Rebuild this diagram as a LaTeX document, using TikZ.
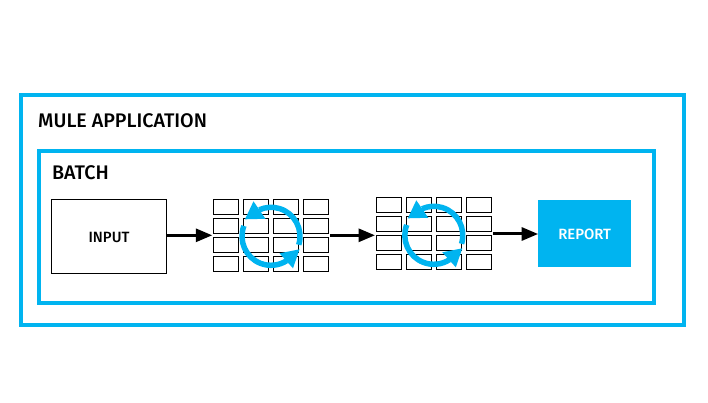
\documentclass[tikz,border=0pt]{standalone}
\usepackage{fontspec}
\setmainfont{Fira Sans}
\newfontfamily\muleface{Fira Sans Medium}
\usetikzlibrary{arrows.meta}
\definecolor{muleblue}{HTML}{00B4F0}
\tikzset{
  frame/.style={draw=muleblue, line width=4*0.03cm, inner sep=0pt},
  title/.style={inner sep=0pt, anchor=west, font=\muleface\fontsize{16.8}{16.8}\selectfont},
  boxtext/.style={inner sep=0pt, text height=10.4pt, text depth=0pt, font=\muleface\fontsize{12.7}{12.7}\selectfont},
  cell/.style={draw, fill=white, line width=1*0.03cm, inner sep=0pt, minimum width=25.2*0.03cm, minimum height=15*0.03cm},
  flow/.style={line width=3*0.03cm, -{Triangle[length=16.5*0.03cm, width=13*0.03cm]}},
  loop/.style={draw=muleblue, line width=5.5*0.03cm},
  loophead/.style={fill=muleblue}
}
\begin{document}
\begin{tikzpicture}[x=0.03cm, y=-0.03cm]
\useasboundingbox (0,0) rectangle (708,403);
\node[frame, minimum width=663.2*0.03cm, minimum height=229.5*0.03cm] (mule) at (352.1,210.25) {};
\node[frame, minimum width=615.3*0.03cm, minimum height=152*0.03cm] (batch) at (346.35,227) {};
\node[title] (mulelabel) at (38,120.7) {MULE APPLICATION};
\node[title] (batchlabel) at (52,173) {BATCH};
\node[boxtext, draw, line width=1*0.03cm, minimum width=115.4*0.03cm, minimum height=74*0.03cm] (input) at (109,236.3) {INPUT};
\node[boxtext, fill=muleblue, text=white, minimum width=92.7*0.03cm, minimum height=67*0.03cm] (report) at (584.7,233.5) {REPORT};
% first grid
\foreach \c [count=\i] in {226,256,286,316}
  \foreach \r [count=\j] in {206.8,225.8,244.8,263.8}
    \node[cell] (G1C\i R\j) at (\c,\r) {};
% second grid
\foreach \c [count=\i] in {389,419,449,479}
  \foreach \r [count=\j] in {204.8,223.8,242.8,261.8}
    \node[cell] (G2C\i R\j) at (\c,\r) {};
\coordinate (G1in) at (212.3,235.3);
\coordinate (G1out) at (330,235.3);
\coordinate (G2in) at (375,235.3);
\coordinate (G2out) at (493,234);
\draw[flow] (input.east |- G1in) -- (G1in);
\draw[flow] (G1out) -- (G2in);
\draw[flow] (G2out) -- (report.west |- G2out);
% loops
\foreach \cx/\cy in {271/236.3,433.8/235.3}{
  \begin{scope}[shift={(\cx,\cy)}]
    \draw[loop] (17:29) arc (17:-114:29);
    \fill[loophead] (-26,-17) -- (-17.5,-35) -- (-5.5,-17.5) -- cycle;
    \draw[loop] (-159:29) arc (-159:-303:29);
    \fill[loophead] (28.5,13) -- (8.5,17) -- (22,32) -- cycle;
  \end{scope}
}
\end{tikzpicture}
\end{document}
